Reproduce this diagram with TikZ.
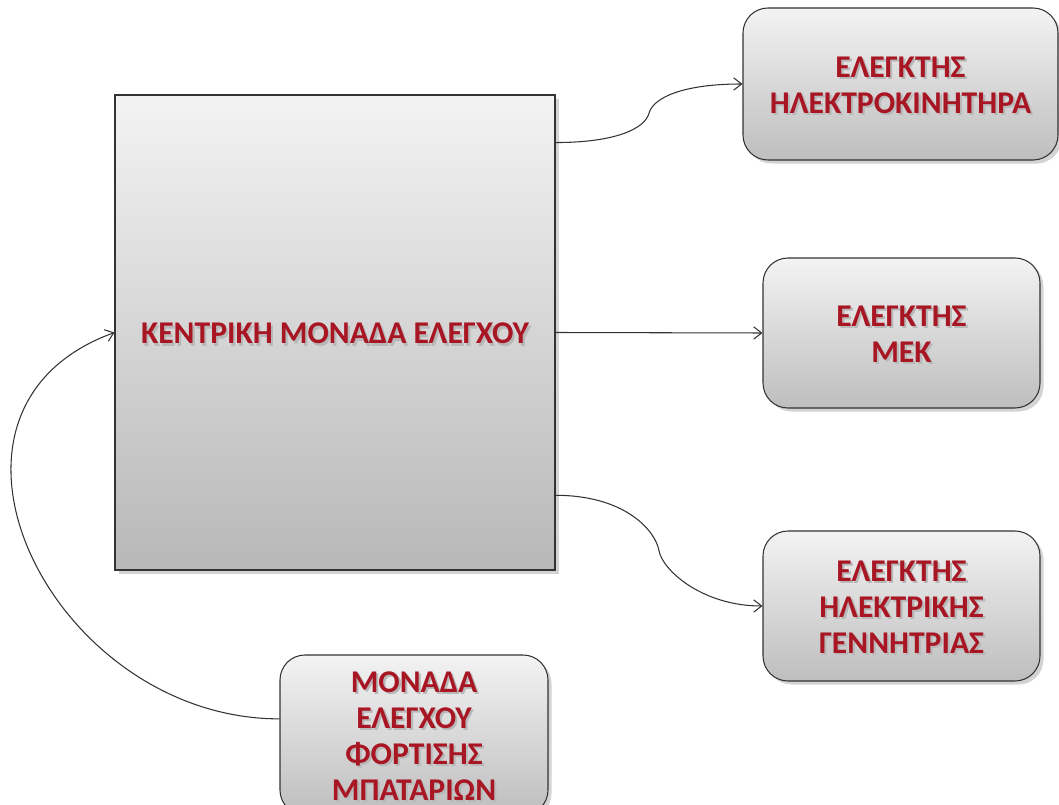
\documentclass[tikz,border=0pt]{standalone}
\usepackage{fontspec}
\setmainfont{Carlito}
\usetikzlibrary{arrows.meta,shadows,calc}

\definecolor{labelred}{RGB}{168,22,36}
\definecolor{boxtop}{RGB}{243,243,243}
\definecolor{boxbottom}{RGB}{190,190,190}

% label text with a soft grey copy set just below it
\newcommand{\shadowed}[1]{\raisebox{-3pt}[\height][\depth]{%
  \rlap{\hspace{1.2pt}\raisebox{-1.2pt}{\color{black!28}\begin{tabular}{@{}c@{}}#1\end{tabular}}}%
  \begin{tabular}{@{}c@{}}#1\end{tabular}}}

\begin{document}
\begin{tikzpicture}[scale=0.2,
    box/.style={draw=black!80, line width=0.6pt, top color=boxtop, bottom color=boxbottom,
      drop shadow={opacity=0.35, shadow xshift=2pt, shadow yshift=-2pt},
      font=\bfseries\fontsize{18}{20.5}\selectfont, text=labelred, align=center},
    unit/.style={box, rounded corners=0.5cm, minimum height=3cm},
    link/.style={draw=black!80, line width=0.6pt, -{Straight Barb[length=4.5pt,width=7pt]}}]
          \useasboundingbox (0,0) rectangle (105.9,-80.5);
          % central unit
          \node [box, bottom color=black!28, minimum width=8.8cm, minimum height=9.5cm] (cpu) at (33.5,-33.25)
               {\shadowed{ΚΕΝΤΡΙΚΗ ΜΟΝΑΔΑ ΕΛΕΓΧΟΥ}};
          % controllers on the right
          \node [unit, minimum width=6.3cm, minimum height=3.04cm] (motor) at (90.05,-8.4)
               {\shadowed{ΕΛΕΓΚΤΗΣ\\ΗΛΕΚΤΡΟΚΙΝΗΤΗΡΑ}};
          \node [unit, minimum width=5.54cm] (ice) at (90.15,-33.3)
               {\shadowed{ΕΛΕΓΚΤΗΣ\\ΜΕΚ}};
          \node [unit, minimum width=5.54cm] (gen) at (90.15,-60.6)
               {\shadowed{ΕΛΕΓΚΤΗΣ\\ΗΛΕΚΤΡΙΚΗΣ\\ΓΕΝΝΗΤΡΙΑΣ}};
          % battery charging unit
          \node [unit, minimum width=5.36cm, minimum height=3.2cm] (batt) at (41.4,-73.5)
               {\shadowed{ΜΟΝΑΔΑ\\ΕΛΕΓΧΟΥ\\ΦΟΡΤΙΣΗΣ\\ΜΠΑΤΑΡΙΩΝ}};
          % where the links leave their boxes
          \coordinate (cpuhi) at ($(cpu.north east)!0.101!(cpu.south east)$);
          \coordinate (cpulo) at ($(cpu.north east)!0.842!(cpu.south east)$);
          \coordinate (battout) at ($(batt.north west)!0.4!(batt.south west)$);
          \coordinate (kinkhi) at ($(cpuhi)!0.5!(motor.west)$);
          \coordinate (kinklo) at ($(cpulo)!0.5!(gen.west)$);
          % links
          \draw [link] (cpuhi) .. controls +(6,0) and +(-105:1.6) .. (kinkhi)
                       .. controls +(75:1.6) and +(-6,0) .. (motor.west);
          \draw [link] (cpu.east) -- (ice.west);
          \draw [link] (cpulo) .. controls +(7,0) and +(100:2) .. (kinklo)
                       .. controls +(-80:2) and +(-6,0) .. (gen.west);
          \draw [link] (battout) .. controls +(-22.8,0) and +(200:22.8) .. (cpu.west);
     \end{tikzpicture}
\end{document}
